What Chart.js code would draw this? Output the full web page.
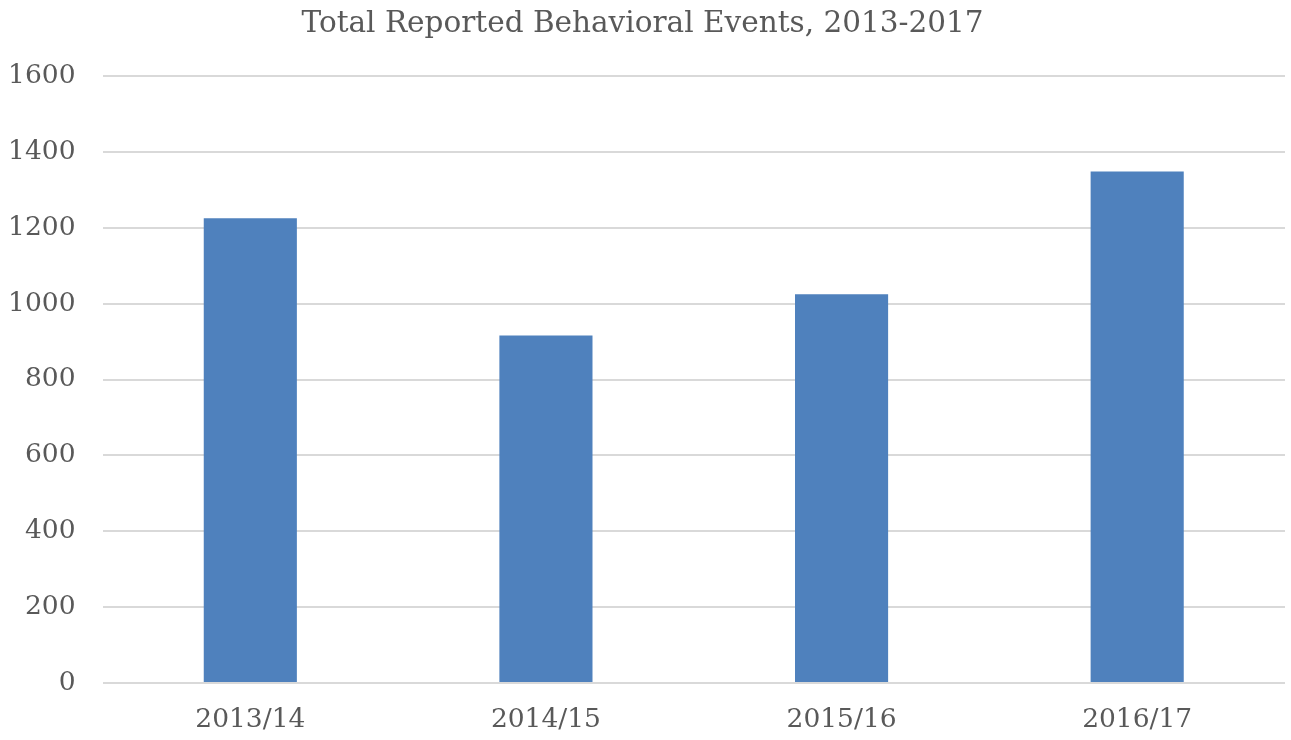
<!DOCTYPE html>
<html lang="en">
<head>
    <meta charset="UTF-8">
    <title>Total Reported Behavioral Events, 2013-2017</title>
    <script src="https://cdn.jsdelivr.net/npm/chart.js"></script>
    <style>
        body {
            margin: 0;
            background: white;
        }

        .chart-box {
            width: 1291px;
            height: 740px;
            position: relative;
        }
    </style>
</head>
<body>
    <div class="chart-box">
        <canvas id="eventsChart"></canvas>
    </div>

    <script>
        // Data
        const schoolYears = ['2013/14', '2014/15', '2015/16', '2016/17'];
        const totalEvents = [1225, 916, 1025, 1348];
        const yTicks = [0, 200, 400, 600, 800, 1000, 1200, 1400, 1600];

        const textColor = '#595959';
        const serif = "'DejaVu Serif', 'Liberation Serif', serif";

        const ctx = document.getElementById('eventsChart').getContext('2d');
        new Chart(ctx, {
            type: 'bar',
            data: {
                labels: schoolYears,
                datasets: [{
                    label: 'Total events',
                    data: totalEvents,
                    backgroundColor: '#4F81BD',
                    borderWidth: 0,
                    barPercentage: 0.63,
                    categoryPercentage: 0.5
                }]
            },
            options: {
                responsive: true,
                maintainAspectRatio: false,
                animation: false,
                layout: {
                    padding: { left: 0, right: 6, top: 0, bottom: 0 }
                },
                plugins: {
                    legend: { display: false },
                    tooltip: { enabled: false },
                    title: {
                        display: true,
                        text: 'Total Reported Behavioral Events, 2013-2017',
                        color: textColor,
                        font: { family: serif, size: 29.5, weight: 'normal' },
                        padding: { top: 7, bottom: 33.6 }
                    }
                },
                scales: {
                    x: {
                        grid: { display: false, drawTicks: false },
                        border: { display: false },
                        ticks: {
                            color: textColor,
                            font: { family: serif, size: 26.5 },
                            padding: 21
                        },
                        afterFit: (scale) => { scale.height = 57; }
                    },
                    y: {
                        min: 0,
                        max: 1600,
                        afterBuildTicks: (scale) => {
                            scale.ticks = yTicks.map(v => ({ value: v }));
                        },
                        grid: {
                            color: '#d9d9d9',
                            lineWidth: 2,
                            drawTicks: false
                        },
                        border: { display: false },
                        ticks: {
                            color: textColor,
                            font: { family: serif, size: 26.5 },
                            padding: 27,
                            callback: (value) => String(value)
                        },
                        afterFit: (scale) => { scale.width = 102.5; }
                    }
                }
            }
        });
    </script>
</body>
</html>
